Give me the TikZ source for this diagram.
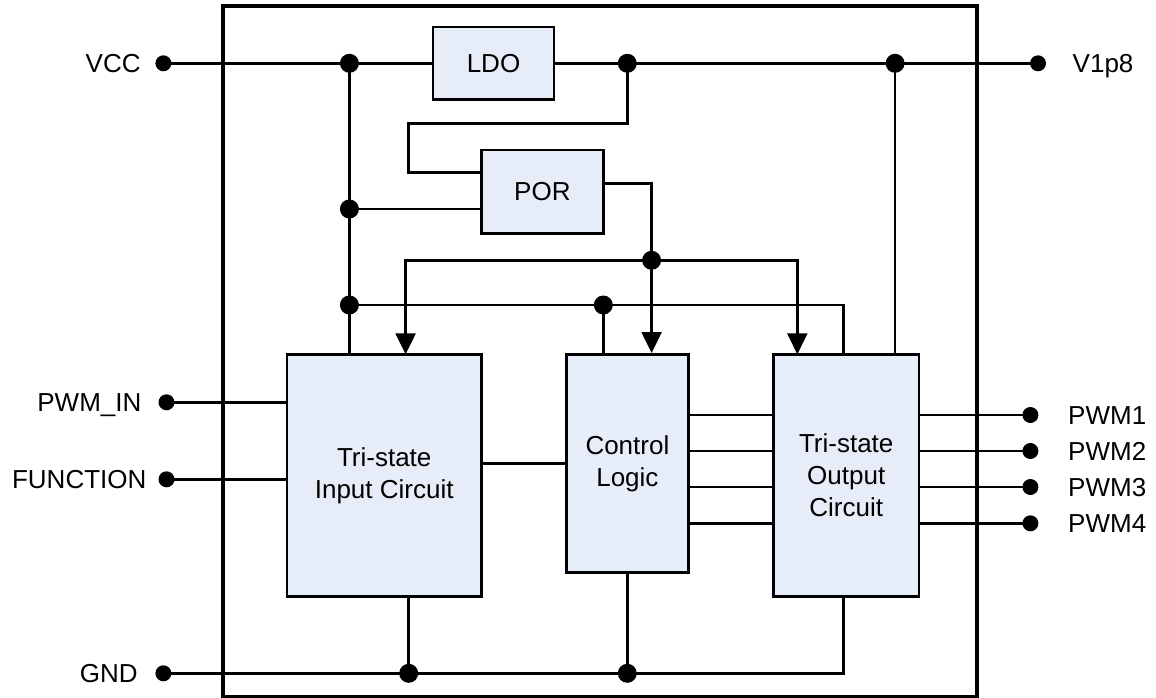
\documentclass[tikz,border=0pt]{standalone}
\usepackage{fontspec}
\setmainfont{Liberation Sans}
\usetikzlibrary{arrows.meta}
\definecolor{boxfill}{RGB}{230,237,248}
\begin{document}
\begin{tikzpicture}[x=1pt,y=-1pt,
  wire/.style={line width=2.5pt},
  blk/.style={draw, line width=2.6pt, fill=boxfill, inner sep=0pt, align=center, font=\fontsize{26}{32}\selectfont},
  lbl/.style={inner sep=0pt, font=\fontsize{26}{32}\selectfont},
  jdot/.style={circle, fill, inner sep=0pt, minimum size=19pt},
  tdot/.style={circle, fill, inner sep=0pt, minimum size=16pt},
  arr/.style={-{Triangle[length=21pt,width=20pt]}},
  arrs/.style={{Triangle[length=21pt,width=20pt]}-{Triangle[length=21pt,width=20pt]}}]
\useasboundingbox (0,0) rectangle (1156,698);
% chip outline
\node[draw, line width=4pt, inner sep=0pt, minimum width=754.3pt, minimum height=690.7pt] (chip) at (600.25,351.35) {};
% blocks
\node[blk, minimum width=121pt, minimum height=72.3pt] (ldo) at (493.5,63.3) {LDO};
\node[blk, minimum width=122pt, minimum height=83.3pt] (por) at (542.4,191.7) {POR};
\node[blk, minimum width=194.4pt, minimum height=242.4pt] (in) at (384.2,475.5) {Tri-state\\Input Circuit};
\node[blk, minimum width=122pt, minimum height=218.4pt] (cl) at (627.4,463.5) {Control\\Logic};
\node[blk, minimum width=145.7pt, minimum height=242.4pt] (out) at (846.2,475.5) {Tri-state\\Output\\Circuit};
% junctions and terminals
\coordinate (j1) at (349.4,63.3);
\coordinate (j2) at (349.4,209);
\coordinate (j3) at (349.4,305);
\coordinate (j4) at (627.3,63.3);
\coordinate (j5) at (895.1,63.3);
\coordinate (j6) at (651.6,260.3);
\coordinate (j7) at (603.3,305);
\coordinate (j8) at (408.7,673.3);
\coordinate (j9) at (627.3,673.3);
\coordinate (vcc) at (163.4,63.3);
\coordinate (v18) at (1038,63.3);
\coordinate (pwmin) at (166.5,402.3);
\coordinate (func) at (166.5,479.3);
\coordinate (gnd) at (163.4,673.3);
\coordinate (p1) at (1030.4,415);
\coordinate (p2) at (1030.4,451);
\coordinate (p3) at (1030.4,487);
\coordinate (p4) at (1030.4,523.3);
\coordinate (fb1) at (627.3,123.3);
\coordinate (fb2) at (408.7,123.3);
\coordinate (fb3) at (408.7,172.3);
\coordinate (po) at (603.3,183.3);
\coordinate (ain) at (405.6,354.3);
\coordinate (aout) at (797.3,354.3);
\coordinate (b2) at (843.7,305);
\coordinate (g2) at (843.7,673.3);
% wires
\draw[wire] (vcc) -- (j1) -- (ldo.west);
\draw[wire] (j1) -- (j1 |- in.north);
\draw[wire] (j2) -- (j2 -| por.west);
\draw[wire] (ldo.east) -- (j4) -- (j5) -- (v18);
\draw[wire] (j4) -- (fb1) -- (fb2) -- (fb3) -- (fb3 -| por.west);
\draw[wire, arr] (po) -| (j6) -- (j6 |- cl.north);
\draw[wire, arrs] (ain) |- (j6) -| (aout);
\draw[wire] (j3) -- (b2) -- (b2 |- out.north);
\draw[wire] (j7) -- (j7 |- cl.north);
\draw[wire] (j5) -- (j5 |- out.north);
\draw[wire] (pwmin) -- (pwmin -| in.west);
\draw[wire] (func) -- (func -| in.west);
\draw[wire] (cl.west -| in.east) -- (cl.west);
\foreach \yy in {415,451,487,523.3} {
  \draw[wire] (cl.east |- 0,\yy) -- (out.west |- 0,\yy);
}
\foreach \pp in {p1,p2,p3,p4} {
  \draw[wire] (out.east |- \pp) -- (\pp);
}
\draw[wire] (gnd) -- (j8) -- (j9) -- (g2) -- (g2 |- out.south);
\draw[wire] (j8) -- (j8 |- in.south);
\draw[wire] (j9) -- (j9 |- cl.south);
% dots
\foreach \jj in {j1,j2,j3,j4,j5,j6,j7,j8,j9} {
  \node[jdot] (d\jj) at (\jj) {};
}
\foreach \tt in {vcc,v18,pwmin,func,gnd,p1,p2,p3,p4} {
  \node[tdot] (d\tt) at (\tt) {};
}
% labels
\node[lbl, anchor=base east] (tvcc) at (140.8,72.6) {VCC};
\node[lbl, anchor=base east] (tpwmin) at (141.6,411.6) {PWM\_IN};
\node[lbl, anchor=base east] (tfunc) at (146.6,488.6) {FUNCTION};
\node[lbl, anchor=base east] (tgnd) at (137.8,682.6) {GND};
\node[lbl, anchor=base west] (tv18) at (1072.5,72.6) {V1p8};
\node[lbl, anchor=base west] (tp1) at (1068,424.3) {PWM1};
\node[lbl, anchor=base west] (tp2) at (1068,460.3) {PWM2};
\node[lbl, anchor=base west] (tp3) at (1068,496.3) {PWM3};
\node[lbl, anchor=base west] (tp4) at (1068,532.6) {PWM4};
\end{tikzpicture}
\end{document}
